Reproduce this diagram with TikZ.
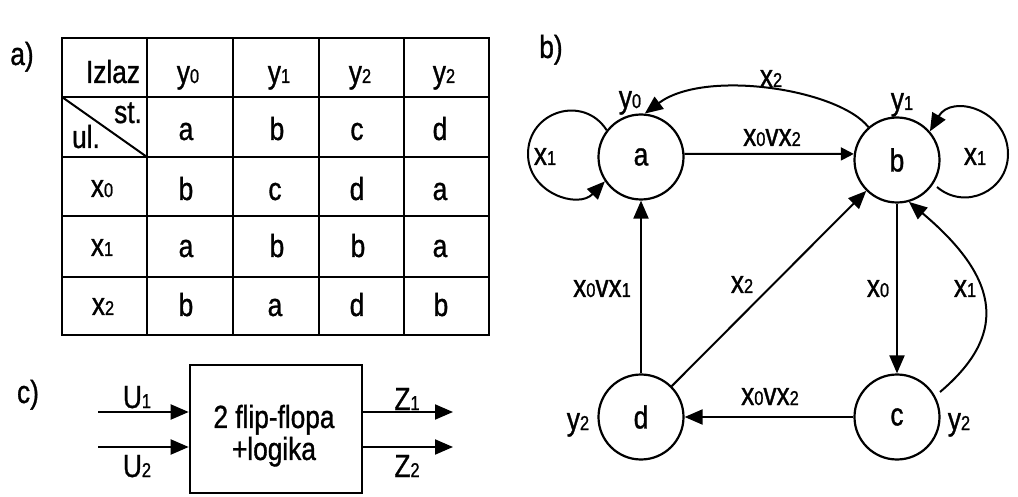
\documentclass[tikz,border=0pt]{standalone}
\usepackage{fontspec}
\setmainfont{Liberation Sans}[FakeStretch=0.82,FakeBold=1]
\usetikzlibrary{arrows.meta}
\newcommand\dg[1]{{\fontsize{20}{20}\selectfont #1}}
\begin{document}
\begin{tikzpicture}[x=1pt,y=-1pt,font=\fontsize{32}{38}\selectfont,
  grid/.style={line width=2.6pt,line cap=rect},
  stt/.style={circle,draw,line width=2.2pt,minimum size=85pt,inner sep=0pt},
  arr/.style={line width=2pt,-{Triangle[length=18pt,width=15pt]}},
  arrs/.style={line width=2pt,-{Triangle[length=13pt,width=13pt]}},
  lbl/.style={anchor=base,inner sep=0pt}]
\useasboundingbox (0,0) rectangle (1018,497);

% ---------- a) table ----------
\node[lbl] (ta) at (22,65) {a)};
\foreach \x in {62,147,233,319,404,489} \draw[grid] (\x,38) -- (\x,335);
\foreach \y in {38,97,157,216,277,335} \draw[grid] (62,\y) -- (489,\y);
\draw[line width=2pt] (62,97) -- (147,157);
\node[lbl] (h0) at (113,83) {Izlaz};
\node[lbl] (h1) at (188,83) {y\dg{0}};
\node[lbl] (h2) at (279,83) {y\dg{1}};
\node[lbl] (h3) at (360,83) {y\dg{2}};
\node[lbl] (h4) at (444,83) {y\dg{2}};
\node[lbl] (st) at (128,123) {st.};
\node[lbl] (ul) at (86,148) {ul.};
\node[lbl] (s1) at (186,140) {a};
\node[lbl] (s2) at (277,140) {b};
\node[lbl] (s3) at (357,140) {c};
\node[lbl] (s4) at (440,140) {d};
\node[lbl] (r0) at (102,197) {x\dg{0}};
\node[lbl] (r1) at (102,256) {x\dg{1}};
\node[lbl] (r2) at (103,315) {x\dg{2}};
\node[lbl] (c01) at (186,200) {b};
\node[lbl] (c02) at (275,200) {c};
\node[lbl] (c03) at (357,200) {d};
\node[lbl] (c04) at (440,200) {a};
\node[lbl] (c11) at (186,257) {a};
\node[lbl] (c12) at (277,257) {b};
\node[lbl] (c13) at (358,257) {b};
\node[lbl] (c14) at (440,257) {a};
\node[lbl] (c21) at (186,316) {b};
\node[lbl] (c22) at (275,316) {a};
\node[lbl] (c23) at (357,316) {d};
\node[lbl] (c24) at (441,316) {b};

% ---------- b) graph ----------
\node[lbl] (tb) at (551,58) {b)};
\node[stt] (a) at (641,157) {a};
\node[stt] (b) at (897,160) {b};
\node[stt] (c) at (897,417) {c};
\node[stt] (d) at (641,417) {d};

\draw[arrs] (a.4) -- (b.172);
\draw[arr] (b.131) .. controls +(-30,-38) and +(60,-45) .. (a.85);
\draw[arr] (b) -- (c);
\draw[arr] (c) -- (d);
\draw[arr] (d) -- (a);
\draw[arr] (d) -- (b);
\draw[arr] ([shift={(43,-25)}]c.center) .. controls +(65,-55) and +(95,80) .. (b.-74);
\draw[arr] (a.142) .. controls +(-23,-36) and +(0,-43) .. ([shift={(-113,-3)}]a.center)
  .. controls +(0,39) and +(-27,28) .. (a.214);
\draw[arr] ([shift={(40,27)}]b.center) .. controls +(28,24) and +(0,37) .. ([shift={(111,-6)}]b.center)
  .. controls +(0,-44) and +(22,-38) .. (b.41);

\node[lbl] (la1) at (545,165) {x\dg{1}};
\node[lbl] (lb1) at (975,165) {x\dg{1}};
\node[lbl] (lba) at (771,87) {x\dg{2}};
\node[lbl] (lab) at (772,146) {x\dg{0}vx\dg{2}};
\node[lbl] (ya) at (630,108) {y\dg{0}};
\node[lbl] (yb) at (902,110) {y\dg{1}};
\node[lbl] (lda) at (602,297) {x\dg{0}vx\dg{1}};
\node[lbl] (ldb) at (742,293) {x\dg{2}};
\node[lbl] (lbc) at (878,297) {x\dg{0}};
\node[lbl] (lcb) at (965,297) {x\dg{1}};
\node[lbl] (lcd) at (770,405) {x\dg{0}vx\dg{2}};
\node[lbl] (yd) at (578,430) {y\dg{2}};
\node[lbl] (yc) at (959,430) {y\dg{2}};

% ---------- c) block ----------
\node[lbl] (tc) at (28,403) {c)};
\node[draw,line width=2.6pt,minimum width=172pt,minimum height=128pt,inner sep=0pt] (box) at (276,429) {};
\node[align=center,inner sep=0pt,font=\fontsize{32}{32}\selectfont] (boxtext) at (274,435.7) {2 flip-flopa\\+logika};
\coordinate (u1) at (98,412);
\coordinate (u2) at (98,447);
\coordinate (z1) at (453,412);
\coordinate (z2) at (453,447);
\draw[arr] (u1) -- (u1 -| box.west);
\draw[arr] (u2) -- (u2 -| box.west);
\draw[arr] (z1 -| box.east) -- (z1);
\draw[arr] (z2 -| box.east) -- (z2);
\node[lbl] (lu1) at (137,408) {U\dg{1}};
\node[lbl] (lu2) at (137,477) {U\dg{2}};
\node[lbl] (lz1) at (407,410) {Z\dg{1}};
\node[lbl] (lz2) at (407,477) {Z\dg{2}};
\end{tikzpicture}
\end{document}
